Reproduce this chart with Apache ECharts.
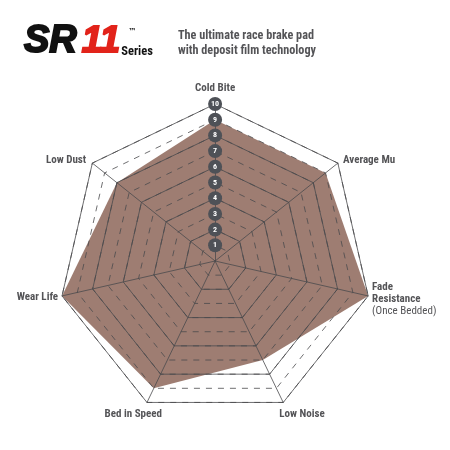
<!DOCTYPE html>
<html>
<head>
<meta charset="utf-8">
<script src="https://cdn.jsdelivr.net/npm/echarts@6/dist/echarts.min.js"></script>
<style>
html,body{margin:0;padding:0;background:#fff;}
#chart{width:450px;height:450px;}
</style>
</head>
<body>
<div id="chart"></div>
<script>
// Categories in ECharts radar order (counter-clockwise from top)
const categories = ['Cold Bite', 'Low Dust', 'Wear Life', 'Bed in Speed', 'Low Noise', 'Fade Resistance', 'Average Mu'];
const values = [9, 8, 10, 9, 7, 10, 9];
const maxValue = 10;
const headline = ['The ultimate race brake pad', 'with deposit film technology'];

const FONT = '"Roboto Condensed", "Liberation Sans Narrow", Roboto, sans-serif';
const GREY = '#545457';
const LINE = '#4a4a4c';

// per-indicator name placement styles
const nameStyles = {
  'Cold Bite': { align: 'center', verticalAlign: 'bottom', padding: [0, 0, 6, 0] },
  'Low Dust': { align: 'right', verticalAlign: 'middle', padding: [0, 3, 0, 0] },
  'Wear Life': { align: 'right', verticalAlign: 'middle', padding: [0, 0, 0, 0] },
  'Bed in Speed': { align: 'center', verticalAlign: 'top', padding: [2, 24, 0, 0] },
  'Low Noise': { align: 'center', verticalAlign: 'top', padding: [2, 0, 0, 34] },
  'Fade Resistance': { align: 'left', verticalAlign: 'middle', padding: [4, 0, 0, 0] },
  'Average Mu': { align: 'left', verticalAlign: 'middle', padding: [0, 0, 0, 2] }
};

function indicators(withLabels) {
  return categories.map((c, i) => {
    const ind = { name: c, max: maxValue, min: 0, nameTextStyle: Object.assign({}, nameStyles[c]) };
    if (withLabels && i === 0) {
      ind.axisLabel = {
        show: true, showMinLabel: false, margin: 0,
        align: 'center', verticalAlign: 'middle',
        color: '#fff', fontSize: 8, fontWeight: 'bold', fontFamily: FONT,
        backgroundColor: '#4e5157', borderRadius: 7,
        width: 14, height: 14, lineHeight: 14, padding: 0
      };
    }
    return ind;
  });
}

const axisNameCfg = {
  color: GREY, fontSize: 11, fontWeight: 'bold', fontFamily: FONT, lineHeight: 12,
  formatter: function (name) {
    if (name === 'Fade Resistance') return 'Fade\nResistance\n{s|(Once Bedded)}';
    return name;
  },
  rich: { s: { fontWeight: 'normal', color: GREY, fontSize: 11, fontFamily: FONT, lineHeight: 12 } }
};

const LOGO_FONT = '"Liberation Sans", Arial, sans-serif';

const chart = echarts.init(document.getElementById('chart'), null, { renderer: 'canvas' });
chart.setOption({
  animation: false,
  backgroundColor: '#fff',
  title: [
    {
      left: 19, top: 18,
      text: '{sr|SR}{el|11}{ser|Series}',
      textStyle: {
        rich: {
          sr: { fontSize: 38, fontWeight: 'bold', fontStyle: 'italic', color: '#111', fontFamily: LOGO_FONT, textBorderColor: '#111', textBorderWidth: 2 },
          el: { fontSize: 37, fontWeight: 'bold', fontStyle: 'italic', color: '#e2231a', fontFamily: LOGO_FONT, textBorderColor: '#e2231a', textBorderWidth: 2, padding: [0, 1, 0, 5] },
          ser: { fontSize: 12.5, fontWeight: 'bold', color: '#111', fontFamily: FONT, verticalAlign: 'bottom', padding: [0, 0, 3, 0] }
        }
      }
    },
    {
      left: 123, top: 23,
      text: '™',
      textStyle: { fontSize: 8, fontWeight: 'bold', color: '#111', fontFamily: '"DejaVu Sans", sans-serif' }
    },
    {
      left: 173, top: 24,
      text: headline.join('\n'),
      textStyle: { color: GREY, fontSize: 12.2, fontWeight: 'bold', fontFamily: FONT, lineHeight: 14.5 }
    }
  ],
  radar: [
    {
      // solid rings (every 2 units)
      center: ['47.8%', '58%'], radius: 157, startAngle: 90, shape: 'polygon',
      splitNumber: 5, z: 3,
      indicator: indicators(false),
      axisName: axisNameCfg, nameGap: 4,
      axisLine: { lineStyle: { color: LINE, width: 0.8 } },
      splitLine: { lineStyle: { color: LINE, width: 0.8 } },
      splitArea: { show: false },
      axisLabel: { show: false }
    },
    {
      // dashed rings (every unit) + value badges
      center: ['47.8%', '58%'], radius: 157, startAngle: 90, shape: 'polygon',
      splitNumber: 10, z: 4,
      indicator: indicators(true),
      axisName: { show: false },
      axisLine: { show: false },
      splitLine: { lineStyle: { color: LINE, width: 0.8, type: [6, 6] } },
      splitArea: { show: false },
      axisLabel: { show: false }
    }
  ],
  series: [{
    type: 'radar', radarIndex: 0, z: 1,
    symbol: 'none',
    lineStyle: { width: 0 },
    areaStyle: { color: '#9e7d72', opacity: 1 },
    data: [{ value: values, name: 'SR-11' }]
  }]
});
</script>
</body>
</html>
